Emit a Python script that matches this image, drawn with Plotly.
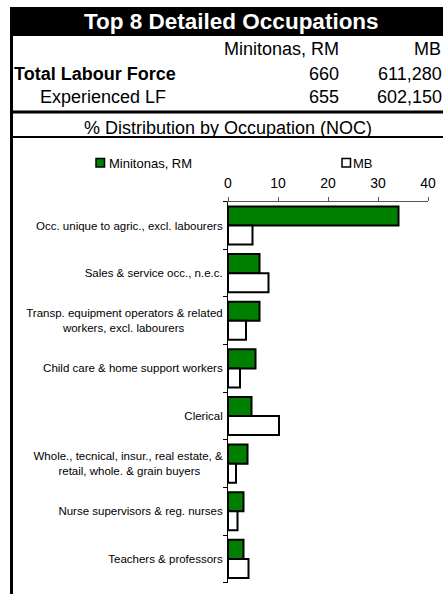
import plotly.graph_objects as go

# ---- data ----
categories = [
    "Occ. unique to agric., excl. labourers",
    "Sales & service occ., n.e.c.",
    "Transp. equipment operators & related<br>workers, excl. labourers",
    "Child care & home support workers",
    "Clerical",
    "Whole., tecnical, insur., real estate, &<br>retail, whole. & grain buyers",
    "Nurse supervisors & reg. nurses",
    "Teachers & professors",
]
minitonas_pct = [34.1, 6.3, 6.3, 5.5, 4.7, 3.9, 3.1, 3.1]
mb_pct = [4.9, 8.1, 3.6, 2.4, 10.2, 1.6, 1.9, 4.1]

series_names = ["Minitonas, RM", "MB"]
total_labour_force = ["660", "611,280"]
experienced_lf = ["655", "602,150"]
x_ticks = [0, 10, 20, 30, 40]

# second-line padding (non-breaking spaces) so two-line labels look centred
label_pad = {2: 12, 5: 7}

W, H = 443, 594
FONT = "Liberation Sans, Arial, sans-serif"


def px(x):
    return x / W


def py(y):
    return 1 - y / H


tick_text = []
for i, c in enumerate(categories):
    if "<br>" in c and i in label_pad:
        a, b = c.split("<br>")
        c = a + "<br>" + b + "\u00a0" * label_pad[i]
    tick_text.append(c)

fig = go.Figure()
fig.add_trace(go.Bar(
    x=minitonas_pct, y=categories, orientation="h", name=series_names[0],
    marker=dict(color="#008000", line=dict(color="black", width=2)),
    showlegend=False,
))
fig.add_trace(go.Bar(
    x=mb_pct, y=categories, orientation="h", name=series_names[1],
    marker=dict(color="white", line=dict(color="black", width=2)),
    showlegend=False,
))

shapes = []
annotations = []

# title band
shapes.append(dict(type="rect", xref="paper", yref="paper",
                   x0=px(10), x1=px(460), y0=py(36), y1=py(7),
                   fillcolor="black", line=dict(width=0), layer="below"))
annotations.append(dict(text="<b>Top 8 Detailed Occupations</b>", xref="paper", yref="paper",
                        x=px(231), y=py(21.5), xanchor="center", yanchor="middle",
                        showarrow=False, font=dict(size=22.5, color="white", family=FONT)))
# header row
annotations.append(dict(text=series_names[0], xref="paper", yref="paper",
                        x=px(341), y=py(49), xanchor="right", yanchor="middle",
                        showarrow=False, font=dict(size=18, color="black", family=FONT)))
annotations.append(dict(text=series_names[1], xref="paper", yref="paper",
                        x=px(443), y=py(49), xanchor="right", yanchor="middle",
                        showarrow=False, font=dict(size=18, color="black", family=FONT)))
# labour force rows
annotations.append(dict(text="<b>Total Labour Force</b>", xref="paper", yref="paper",
                        x=px(12), y=py(74), xanchor="left", yanchor="middle",
                        showarrow=False, font=dict(size=18, color="black", family=FONT)))
annotations.append(dict(text="Experienced LF", xref="paper", yref="paper",
                        x=px(38), y=py(97), xanchor="left", yanchor="middle",
                        showarrow=False, font=dict(size=18, color="black", family=FONT)))
for row_vals, yy in [(total_labour_force, 74), (experienced_lf, 97)]:
    annotations.append(dict(text=row_vals[0], xref="paper", yref="paper",
                            x=px(341), y=py(yy), xanchor="right", yanchor="middle",
                            showarrow=False, font=dict(size=18, color="black", family=FONT)))
    annotations.append(dict(text=row_vals[1], xref="paper", yref="paper",
                            x=px(444), y=py(yy), xanchor="right", yanchor="middle",
                            showarrow=False, font=dict(size=18, color="black", family=FONT)))
# rules
shapes.append(dict(type="line", xref="paper", yref="paper",
                   x0=px(10), x1=px(460), y0=py(112), y1=py(112),
                   line=dict(color="black", width=3)))
annotations.append(dict(text="% Distribution by Occupation (NOC)", xref="paper", yref="paper",
                        x=px(228), y=py(128), xanchor="center", yanchor="middle",
                        showarrow=False, font=dict(size=18, color="black", family=FONT)))
shapes.append(dict(type="line", xref="paper", yref="paper",
                   x0=px(10), x1=px(460), y0=py(137), y1=py(137),
                   line=dict(color="black", width=2)))
# left border
shapes.append(dict(type="line", xref="paper", yref="paper",
                   x0=px(11.5), x1=px(11.5), y0=py(36), y1=py(600),
                   line=dict(color="black", width=3)))

# custom legend
leg = [("#008000", 96, 107, series_names[0]), ("white", 342, 351, series_names[1])]
for col, sx, tx, name in leg:
    shapes.append(dict(type="rect", xref="paper", yref="paper",
                       x0=px(sx), x1=px(sx + 8.5), y0=py(167), y1=py(158.5),
                       fillcolor=col, line=dict(color="black", width=1.5)))
    annotations.append(dict(text=name, xref="paper", yref="paper",
                            x=px(tx), y=py(163), xanchor="left", yanchor="middle",
                            showarrow=False, font=dict(size=13, color="black", family=FONT)))

fig.update_layout(
    width=W, height=H,
    margin=dict(l=0, r=0, t=0, b=0, autoexpand=False),
    paper_bgcolor="white", plot_bgcolor="white",
    font=dict(family=FONT, color="black"),
    barmode="group", bargap=0.2, bargroupgap=0,
    shapes=shapes, annotations=annotations,
    xaxis=dict(domain=[px(228), px(428)], range=[0, 40], side="top",
               tickvals=x_ticks, ticks="outside", ticklen=4, tickcolor="#555",
               ticklabelstandoff=3,
               showline=True, linecolor="#555", linewidth=1,
               showgrid=False, zeroline=False,
               tickfont=dict(size=14, color="black", family=FONT)),
    yaxis=dict(domain=[py(582.7), py(201.7)], type="category", autorange="reversed",
               tickvals=categories, ticktext=tick_text,
               ticks="outside", ticklen=4, tickson="boundaries", tickcolor="black",
               ticklabelstandoff=2,
               showline=True, linecolor="black", linewidth=1,
               showgrid=False, zeroline=False,
               tickfont=dict(size=11.5, color="black", family=FONT)),
)

fig.write_html(
    "out.html",
    config={"displayModeBar": False},
    post_script="document.body.style.margin='0';document.body.style.overflow='hidden';",
)
